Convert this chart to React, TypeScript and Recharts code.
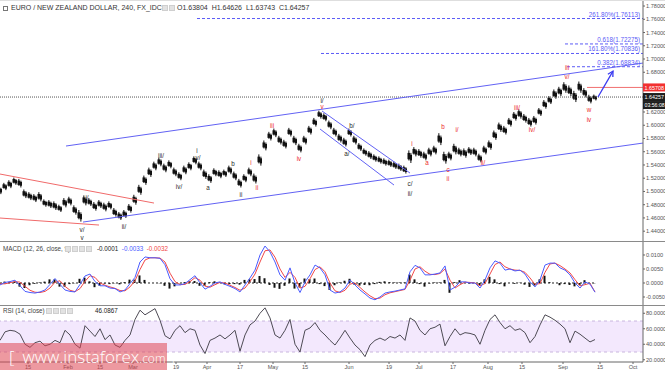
import React from 'react';
import {
  ComposedChart,
  Line,
  Bar,
  XAxis,
  YAxis,
  ReferenceLine,
  ReferenceDot,
  ReferenceArea,
} from 'recharts';

// ---------- DATA ----------
// price highs / lows (4H candles sampled), one per step
const priceHigh = [
  1.508, 1.513, 1.517, 1.521, 1.519, 1.503, 1.499, 1.496, 1.499, 1.488,
  1.487, 1.485, 1.48, 1.49, 1.492, 1.479, 1.472, 1.494, 1.49, 1.484,
  1.487, 1.483, 1.485, 1.475, 1.469, 1.472, 1.481, 1.495, 1.51, 1.524,
  1.536, 1.545, 1.551, 1.542, 1.547, 1.536, 1.529, 1.539, 1.544, 1.553,
  1.545, 1.533, 1.526, 1.535, 1.532, 1.533, 1.539, 1.53, 1.519, 1.526,
  1.536, 1.527, 1.556, 1.577, 1.59, 1.595, 1.584, 1.578, 1.596, 1.584,
  1.572, 1.584, 1.599, 1.611, 1.622, 1.618, 1.607, 1.596, 1.587, 1.581,
  1.595, 1.584, 1.573, 1.565, 1.561, 1.556, 1.553, 1.55, 1.548, 1.545,
  1.542, 1.539, 1.562, 1.567, 1.564, 1.56, 1.566, 1.569, 1.588, 1.56,
  1.56, 1.572, 1.566, 1.565, 1.567, 1.566, 1.557, 1.569, 1.577, 1.592,
  1.604, 1.599, 1.611, 1.62, 1.624, 1.617, 1.611, 1.614, 1.626, 1.638,
  1.644, 1.654, 1.658, 1.665, 1.66, 1.652, 1.666, 1.656, 1.646, 1.6463,
];
const priceLow = [
  1.496, 1.502, 1.505, 1.51, 1.506, 1.49, 1.487, 1.484, 1.485, 1.477,
  1.475, 1.472, 1.469, 1.476, 1.479, 1.465, 1.4545, 1.479, 1.478, 1.471,
  1.475, 1.47, 1.473, 1.462, 1.457, 1.46, 1.468, 1.48, 1.495, 1.51,
  1.522, 1.532, 1.538, 1.529, 1.535, 1.523, 1.517, 1.526, 1.532, 1.541,
  1.532, 1.519, 1.513, 1.523, 1.52, 1.522, 1.526, 1.517, 1.506, 1.514,
  1.523, 1.512, 1.539, 1.562, 1.577, 1.582, 1.571, 1.565, 1.583, 1.57,
  1.559, 1.571, 1.586, 1.598, 1.61, 1.606, 1.594, 1.583, 1.574, 1.568,
  1.583, 1.571, 1.561, 1.554, 1.549, 1.545, 1.542, 1.539, 1.537, 1.534,
  1.531, 1.527, 1.543, 1.553, 1.551, 1.547, 1.553, 1.556, 1.57, 1.542,
  1.547, 1.556, 1.553, 1.551, 1.555, 1.553, 1.544, 1.556, 1.563, 1.578,
  1.59, 1.586, 1.598, 1.607, 1.61, 1.604, 1.598, 1.601, 1.614, 1.625,
  1.632, 1.64, 1.644, 1.649, 1.644, 1.635, 1.649, 1.642, 1.633, 1.6374,
];
const macdValues = [
  -0.0007, 0.0002, 0.0005, 0.001, -0.001, -0.003, -0.0034, -0.0036, -0.0032, -0.0025,
  -0.0005, 0.0016, -0.0005, -0.0025, -0.003, -0.0032, -0.0005, 0.0025, 0.0032, 0.0005,
  -0.001, -0.001, -0.0018, -0.002, -0.0032, -0.0025, -0.0002, 0.002, 0.0075, 0.0093,
  0.009, 0.009, 0.0088, 0.0065, 0.0015, -0.0007, -0.0007, -0.0002, 0.0012, 0.0026,
  0.0, -0.0022, -0.0012, 0.0, 0.0004, -0.0005, -0.0012, -0.002, -0.0032, -0.0007,
  0.0018, 0.0046, 0.01, 0.0132, 0.0111, 0.0075, 0.0029, 0.001, 0.0054, 0.0,
  -0.0034, 0.0004, 0.0029, 0.0064, 0.0054, 0.0029, -0.0025, -0.0036, -0.0032, -0.0018,
  0.0011, -0.0007, -0.0025, -0.0039, -0.0054, -0.006, -0.005, -0.0036, -0.0032, -0.0029,
  -0.0025, -0.0021, 0.004, 0.0063, 0.0054, 0.0029, 0.0029, 0.0032, 0.0036, 0.0061,
  -0.0025, -0.0015, 0.0004, 0.0004, 0.0, 0.0, -0.0018, 0.0011, 0.0054, 0.0079,
  0.0071, 0.0046, 0.005, 0.0043, 0.0046, 0.0032, 0.0004, -0.0014, 0.0011, 0.0064,
  0.0071, 0.0071, 0.0054, 0.0046, 0.0029, 0.0, -0.0018, 0.0004, -0.0004, -0.0033,
];
const signalValues = [
  -0.0003, -0.0003, 0.0001, 0.0005, 0.0003, -0.0012, -0.0026, -0.0033, -0.0034, -0.003,
  -0.0018, 0.0003, 0.0008, -0.0012, -0.0026, -0.0031, -0.002, 0.0006, 0.0026, 0.002,
  0.0, -0.0008, -0.0014, -0.0019, -0.0027, -0.0028, -0.0014, 0.0008, 0.0048, 0.0082,
  0.009, 0.009, 0.0089, 0.0075, 0.0035, 0.0005, -0.0006, -0.0005, 0.0005, 0.0019,
  0.001, -0.0011, -0.0015, -0.0006, 0.0002, 0.0, -0.0008, -0.0016, -0.0026, -0.0018,
  0.0005, 0.0032, 0.0075, 0.0115, 0.0118, 0.0092, 0.005, 0.002, 0.0038, 0.002,
  -0.0018, -0.0012, 0.0015, 0.0048, 0.0058, 0.004, 0.0, -0.0028, -0.0034, -0.0026,
  -0.0004, 0.0, -0.0016, -0.0032, -0.0046, -0.0056, -0.0054, -0.0042, -0.0035, -0.0031,
  -0.0027, -0.0023, 0.001, 0.005, 0.0058, 0.0042, 0.0031, 0.003, 0.0034, 0.005,
  0.001, -0.0018, -0.0006, 0.0003, 0.0002, 0.0, -0.001, -0.0002, 0.0032, 0.0066,
  0.0075, 0.0058, 0.005, 0.0046, 0.0045, 0.0038, 0.0018, -0.0005, -0.0002, 0.0038,
  0.0068, 0.0071, 0.0062, 0.005, 0.0036, 0.0012, -0.001, -0.0006, -0.0001, -0.0032,
];
const histValues = [
  -0.0004, 0.0005, 0.0004, 0.0005, -0.0013, -0.0018, -0.0008, -0.0003, 0.0002, 0.0005,
  0.0013, 0.0013, -0.0013, -0.0013, -0.0004, -0.0001, 0.0015, 0.0019, 0.0006, -0.0015,
  -0.001, -0.0002, -0.0004, -0.0001, -0.0005, 0.0003, 0.0012, 0.0012, 0.0027, 0.0011,
  0.0, 0.0, -0.0001, -0.001, -0.002, -0.0012, -0.0001, 0.0003, 0.0007, 0.0007,
  -0.001, -0.0011, 0.0003, 0.0006, 0.0002, -0.0005, -0.0004, -0.0004, -0.0006, 0.0011,
  0.0013, 0.0014, 0.0025, 0.0017, -0.0007, -0.0017, -0.0021, -0.001, 0.0016, -0.002,
  -0.0016, 0.0016, 0.0014, 0.0016, -0.0004, -0.0011, -0.0025, -0.0008, 0.0002, 0.0008,
  0.0015, -0.0007, -0.0009, -0.0007, -0.0008, -0.0004, 0.0004, 0.0006, 0.0003, 0.0002,
  0.0002, 0.0002, 0.003, 0.0013, -0.0004, -0.0013, -0.0002, 0.0002, 0.0002, 0.0011,
  -0.0035, 0.0003, 0.001, 0.0001, -0.0002, 0.0, -0.0008, 0.0013, 0.0022, 0.0013,
  -0.0004, -0.0012, 0.0, -0.0003, 0.0001, -0.0006, -0.0014, -0.0009, 0.0013, 0.0026,
  0.0003, 0.0, -0.0008, -0.0004, -0.0007, -0.0012, -0.0008, 0.001, -0.0003, -0.0001,
];
const rsiValues = [
  45, 56, 58, 57, 53, 40, 36, 42, 44, 38,
  40, 45, 42, 58, 52, 40, 35, 64, 57, 50,
  60, 46, 52, 39, 36, 45, 52, 72, 84, 78,
  82, 86, 71, 51, 47, 58, 64, 55, 60, 58,
  39, 28, 45, 48, 52, 47, 52, 58, 31, 52,
  65, 70, 80, 87, 74, 52, 48, 58, 72, 40,
  30, 58, 61, 68, 58, 52, 45, 39, 48, 58,
  48, 39, 33, 24, 39, 45, 48, 45, 50, 48,
  52, 45, 74, 70, 58, 52, 60, 62, 66, 38,
  50, 60, 52, 55, 54, 52, 40, 58, 72, 78,
  68, 60, 64, 58, 60, 55, 42, 50, 65, 78,
  75, 71, 66, 60, 42, 57, 53, 48, 43, 46.0867,
];

const dateTickPos = [5.6, 13.6, 20, 26.6, 35.2, 41.4, 48, 54.6, 61, 69.8, 77.8, 83.8, 90.6, 97.6, 104.4, 112.6, 120, 126.6];
const dateTickLabels = ['15', 'Feb', '15', 'Mar', '19', 'Apr', '17', 'May', '15', 'Jun', '19', 'Jul', '17', 'Aug', '15', 'Sep', '15', 'Oct'];

const priceTicks = [1.44, 1.46, 1.48, 1.5, 1.52, 1.54, 1.56, 1.58, 1.6, 1.62, 1.68, 1.7, 1.72, 1.74, 1.76, 1.78];
const macdTicks = [-0.005, 0, 0.005, 0.01];
const rsiTicks = [20, 40, 60, 80];

const fibLevels = [
  { label: '261.80%(1.76113)', value: 1.76113, from: 39.4 },
  { label: '0.618(1.72275)', value: 1.72275, from: 113 },
  { label: '161.80%(1.70836)', value: 1.70836, from: 64.2 },
  { label: '0.382(1.68834)', value: 1.68834, from: 113.4 },
];

const trendLines = [
  { a: [13.2, 1.5686], b: [128.6, 1.6939], color: 'blue' },
  { a: [16.6, 1.4538], b: [128.6, 1.5731], color: 'blue' },
  { a: [0, 1.5263], b: [30.8, 1.4825], color: 'red' },
  { a: [0, 1.4599], b: [19.8, 1.4493], color: 'red' },
  { a: [64.4, 1.6215], b: [82, 1.5278], color: 'blue' },
  { a: [64, 1.5943], b: [78.8, 1.5097], color: 'blue' },
];

const waveLabels = [
  { t: 'i/', x: 17.4, p: 1.4916, red: false },
  { t: 'v/', x: 16.4, p: 1.4425, red: false },
  { t: 'v', x: 16.4, p: 1.4305, red: false },
  { t: 'ii/', x: 24.8, p: 1.4478, red: false },
  { t: 'iii/', x: 32.2, p: 1.555, red: false },
  { t: 'iv/', x: 35.8, p: 1.5082, red: false },
  { t: 'i', x: 39.4, p: 1.5626, red: false },
  { t: 'v/', x: 39.6, p: 1.552, red: false },
  { t: 'a', x: 41.6, p: 1.5067, red: false },
  { t: 'b', x: 46.6, p: 1.5429, red: false },
  { t: 'ii', x: 48.2, p: 1.4961, red: false },
  { t: 'i/', x: 64.4, p: 1.6381, red: false },
  { t: 'b/', x: 70.4, p: 1.6003, red: false },
  { t: 'a/', x: 69.4, p: 1.558, red: false },
  { t: 'c/', x: 82, p: 1.5127, red: false },
  { t: 'ii/', x: 82, p: 1.4976, red: false },
  { t: 'i', x: 50.2, p: 1.5444, red: true },
  { t: 'ii', x: 51.4, p: 1.5067, red: true },
  { t: 'iii', x: 54.4, p: 1.6003, red: true },
  { t: 'iv', x: 59.8, p: 1.5505, red: true },
  { t: 'v', x: 64.4, p: 1.629, red: true },
  { t: 'i', x: 82.4, p: 1.5731, red: true },
  { t: 'a', x: 85.4, p: 1.5444, red: true },
  { t: 'b', x: 88.6, p: 1.5988, red: true },
  { t: 'i/', x: 91.4, p: 1.5943, red: true },
  { t: 'c', x: 89.6, p: 1.5339, red: true },
  { t: 'ii', x: 89.6, p: 1.5203, red: true },
  { t: 'ii/', x: 96.6, p: 1.5444, red: true },
  { t: 'iii/', x: 103.4, p: 1.6275, red: true },
  { t: 'iv/', x: 106.4, p: 1.5943, red: true },
  { t: 'v/', x: 113.4, p: 1.6743, red: true },
  { t: 'iii', x: 113.4, p: 1.6879, red: true },
  { t: 'w', x: 117.8, p: 1.6245, red: true },
  { t: 'iv', x: 117.8, p: 1.6094, red: true },
];

const lastClose = 1.64257;
const prevLevel = 1.65708;
const countdown = '03:56:08';
const arrowFrom = [119.6, 1.6426];
const arrowTo = [122.6, 1.6818];

// ---------- TABLES ----------
const priceData = priceHigh.map((h, i) => ({ x: i, range: [priceLow[i], h] }));
const macdData = macdValues.map((m, i) => ({ x: i, macd: m, signal: signalValues[i], hist: histValues[i] }));
const rsiData = rsiValues.map((r, i) => ({ x: i, rsi: r }));

// ---------- STYLE ----------
const FONT = '"Liberation Sans", Arial, sans-serif';
const DARK = '#2a2a2a';
const RED = '#ec2b2b';
const BLUE = '#5b5bf6';
const AXIS = '#666';
const X_DOMAIN: [number, number] = [0, 128.6];
const AX_W = 22;
const tickStyle = { fontSize: 5.6, fill: '#555', fontFamily: FONT };

const ArrowShape = (p: any) => {
  const { x1, y1, x2, y2 } = p;
  const a = Math.atan2(y2 - y1, x2 - x1);
  const L = 6;
  const s = 0.5;
  const ax = x2 - L * Math.cos(a - s);
  const ay = y2 - L * Math.sin(a - s);
  const bx = x2 - L * Math.cos(a + s);
  const by = y2 - L * Math.sin(a + s);
  return (
    <g>
      <line x1={x1} y1={y1} x2={x2} y2={y2} stroke="#3a3af0" strokeWidth={1.3} />
      <polyline points={`${ax},${ay} ${x2},${y2} ${bx},${by}`} fill="none" stroke="#3a3af0" strokeWidth={1.3} />
    </g>
  );
};

// candle-like: thin wick plus narrower bodies, two sub-candles per step
const CandleShape = (p: any) => {
  const { x, y, width, height } = p;
  if (height == null || isNaN(height)) return null;
  const top = Math.min(y, y + height);
  const h = Math.abs(height);
  const c1 = x + width * 0.3;
  const c2 = x + width * 0.75;
  return (
    <g>
      <line x1={c1} y1={top} x2={c1} y2={top + h * 0.8} stroke="#111" strokeWidth={1} />
      <line x1={c2} y1={top + h * 0.2} x2={c2} y2={top + h} stroke="#111" strokeWidth={1} />
      <rect x={x} y={top + h * 0.2} width={width * 0.55} height={Math.max(1, h * 0.5)} fill="#111" />
      <rect x={x + width * 0.5} y={top + h * 0.35} width={width * 0.5} height={Math.max(1, h * 0.45)} fill="#111" />
    </g>
  );
};

function PriceChart() {
  return (
    <ComposedChart width={665} height={241} data={priceData} margin={{ top: 0, right: 0, bottom: 0, left: 0 }}>
      <XAxis dataKey="x" type="number" domain={X_DOMAIN} hide allowDataOverflow />
      <YAxis
        orientation="right"
        width={AX_W}
        domain={[1.4252, 1.7891]}
        allowDataOverflow
        ticks={priceTicks}
        tickFormatter={(v: number) => v.toFixed(5)}
        tick={tickStyle}
        tickSize={2}
        tickMargin={1}
        axisLine={{ stroke: AXIS }}
        tickLine={{ stroke: AXIS }}
      />
      <ReferenceLine y={lastClose} stroke="#555" strokeDasharray="1 1" strokeWidth={1} ifOverflow="hidden" />
      {fibLevels.map((f, i) => (
        <ReferenceLine
          key={'f' + i}
          segment={[{ x: f.from, y: f.value }, { x: 128.6, y: f.value }]}
          stroke={BLUE}
          strokeDasharray="3 2"
          strokeWidth={1}
          ifOverflow="hidden"
        />
      ))}
      <ReferenceLine
        segment={[{ x: 117.4, y: prevLevel }, { x: 128.6, y: prevLevel }]}
        stroke="#f07070"
        strokeWidth={1}
        ifOverflow="hidden"
      />
      {trendLines.map((l, i) => (
        <ReferenceLine
          key={'t' + i}
          segment={[{ x: l.a[0], y: l.a[1] }, { x: l.b[0], y: l.b[1] }]}
          stroke={l.color === 'red' ? '#f06a6a' : '#6262f4'}
          strokeWidth={1}
          ifOverflow="hidden"
        />
      ))}
      <Bar dataKey="range" barSize={5} fill="#111" shape={CandleShape} isAnimationActive={false} />
      <ReferenceLine
        segment={[{ x: arrowFrom[0], y: arrowFrom[1] }, { x: arrowTo[0], y: arrowTo[1] }]}
        ifOverflow="visible"
        shape={ArrowShape}
      />
      {fibLevels.map((f, i) => (
        <ReferenceDot
          key={'fl' + i}
          x={128}
          y={f.value}
          r={1}
          ifOverflow="visible"
          shape={(p: any) => (
            <text x={p.cx} y={p.cy - 2} textAnchor="end" fontSize={6.3} fill={BLUE} fontFamily={FONT}>
              {f.label}
            </text>
          )}
        />
      ))}
      {waveLabels.map((w, i) => (
        <ReferenceDot
          key={'w' + i}
          x={w.x}
          y={w.p}
          r={1}
          ifOverflow="visible"
          shape={(p: any) => (
            <text
              x={p.cx}
              y={p.cy}
              textAnchor="middle"
              dominantBaseline="central"
              fontSize={6.3}
              fill={w.red ? RED : DARK}
              fontFamily={FONT}
            >
              {w.t}
            </text>
          )}
        />
      ))}
      <ReferenceDot
        x={128.6}
        y={prevLevel}
        r={1}
        ifOverflow="visible"
        shape={(p: any) => (
          <g>
            <rect x={p.cx} y={p.cy - 4} width={22} height={8} fill="#f23030" />
            <text x={p.cx + 1.5} y={p.cy + 2.1} fontSize={5.4} fill="#fff" fontFamily={FONT}>
              {prevLevel.toFixed(5)}
            </text>
          </g>
        )}
      />
      <ReferenceDot
        x={128.6}
        y={lastClose}
        r={1}
        ifOverflow="visible"
        shape={(p: any) => (
          <g>
            <rect x={p.cx} y={p.cy - 4} width={22} height={8} fill="#1e1e1e" />
            <text x={p.cx + 1.5} y={p.cy + 2.1} fontSize={5.4} fill="#fff" fontFamily={FONT}>
              {lastClose.toFixed(5)}
            </text>
            <rect x={p.cx} y={p.cy + 4} width={22} height={8} fill="#1e1e1e" />
            <text x={p.cx + 1.5} y={p.cy + 10.1} fontSize={5.2} fill="#fff" fontFamily={FONT}>
              {countdown}
            </text>
          </g>
        )}
      />
    </ComposedChart>
  );
}

function MacdChart() {
  return (
    <ComposedChart width={665} height={63} data={macdData} margin={{ top: 0, right: 0, bottom: 0, left: 0 }}>
      <XAxis dataKey="x" type="number" domain={X_DOMAIN} hide allowDataOverflow />
      <YAxis
        orientation="right"
        width={AX_W}
        domain={[-0.00786, 0.01464]}
        allowDataOverflow
        ticks={macdTicks}
        tickFormatter={(v: number) => v.toFixed(4)}
        tick={tickStyle}
        tickSize={2}
        tickMargin={1}
        axisLine={{ stroke: AXIS }}
        tickLine={{ stroke: AXIS }}
      />
      <ReferenceLine
        segment={[{ x: 0, y: 0 }, { x: 119, y: 0 }]}
        stroke="#222"
        strokeDasharray="2 2"
        strokeWidth={1}
      />
      <Bar dataKey="hist" fill="#111" barSize={2} isAnimationActive={false} />
      <Line dataKey="signal" type="linear" stroke="#f24848" strokeWidth={1} dot={false} activeDot={false} isAnimationActive={false} />
      <Line dataKey="macd" type="linear" stroke="#4b5cff" strokeWidth={1} dot={false} activeDot={false} isAnimationActive={false} />
    </ComposedChart>
  );
}

function RsiChart() {
  return (
    <ComposedChart width={665} height={66} data={rsiData} margin={{ top: 0, right: 0, bottom: 0, left: 0 }}>
      <XAxis
        dataKey="x"
        type="number"
        domain={X_DOMAIN}
        allowDataOverflow
        ticks={dateTickPos}
        interval={0}
        tickFormatter={(v: number) => {
          const k = dateTickPos.indexOf(v);
          return k >= 0 ? dateTickLabels[k] : '';
        }}
        tick={tickStyle}
        height={10}
        tickSize={2}
        tickMargin={1}
        axisLine={{ stroke: AXIS }}
        tickLine={{ stroke: AXIS }}
      />
      <YAxis
        orientation="right"
        width={AX_W}
        domain={[17.1, 89.4]}
        allowDataOverflow
        ticks={rsiTicks}
        tickFormatter={(v: number) => v.toFixed(4)}
        tick={tickStyle}
        tickSize={2}
        tickMargin={1}
        axisLine={{ stroke: AXIS }}
        tickLine={{ stroke: AXIS }}
      />
      <ReferenceArea y1={30} y2={70} fill="#f3e8fd" fillOpacity={1} stroke="none" ifOverflow="hidden" />
      <ReferenceLine y={70} stroke="#c9b6de" strokeDasharray="3 3" />
      <ReferenceLine y={30} stroke="#c9b6de" strokeDasharray="3 3" />
      <Line dataKey="rsi" type="linear" stroke="#4e4b55" strokeWidth={1} dot={false} activeDot={false} isAnimationActive={false} />
    </ComposedChart>
  );
}

const iconBox = (left: number, top: number) => (
  <div style={{ position: 'absolute', left, top, width: 6, height: 6, background: '#e2e2e2', border: '1px solid #cfcfcf', boxSizing: 'border-box' }} />
);

export default function App() {
  return (
    <div style={{ position: 'absolute', left: 0, top: 0, width: 665, height: 372, background: '#fff', overflow: 'hidden', fontFamily: FONT }}>
      <div style={{ position: 'absolute', left: 0, top: 0 }}>
        <PriceChart />
      </div>
      <div style={{ position: 'absolute', left: 0, top: 242 }}>
        <MacdChart />
      </div>
      <div style={{ position: 'absolute', left: 0, top: 306 }}>
        <RsiChart />
      </div>
      <div style={{ position: 'absolute', left: 0, top: 0, width: 665, height: 1, background: '#dedede' }} />
      <div style={{ position: 'absolute', left: 0, top: 241, width: 665, height: 1, background: '#8a8a8a' }} />
      <div style={{ position: 'absolute', left: 0, top: 305, width: 665, height: 1, background: '#8a8a8a' }} />

      {/* main header */}
      <div style={{ position: 'absolute', left: 3, top: 4, fontSize: 7, lineHeight: '8px', color: '#333', whiteSpace: 'nowrap' }}>
        <span style={{ display: 'inline-block', width: 5, height: 5, border: '1px solid #777', marginRight: 3, verticalAlign: 'middle', boxSizing: 'border-box' }} />
        EURO / NEW ZEALAND DOLLAR, 240, FX_IDC <span style={{ color: '#aaa' }}>▾</span>
      </div>
      {iconBox(162, 5)}
      {iconBox(169, 5)}
      <div style={{ position: 'absolute', left: 177, top: 4, fontSize: 7, lineHeight: '8px', color: '#333', whiteSpace: 'nowrap' }}>
        O1.63804&nbsp;&nbsp;H1.64626&nbsp;&nbsp;L1.63743&nbsp;&nbsp;C1.64257
      </div>

      {/* MACD header */}
      <div style={{ position: 'absolute', left: 3, top: 245, fontSize: 6.3, lineHeight: '8px', color: '#444', whiteSpace: 'nowrap' }}>
        MACD (12, 26, close, 9) <span style={{ color: '#aaa' }}>▾</span>
      </div>
      {iconBox(65, 246)}
      {iconBox(72, 246)}
      {iconBox(79, 246)}
      {iconBox(86, 246)}
      <div style={{ position: 'absolute', left: 97, top: 245, fontSize: 6.3, lineHeight: '8px', whiteSpace: 'nowrap' }}>
        <span style={{ color: '#222' }}>-0.0001</span>&nbsp;&nbsp;
        <span style={{ color: '#4b5cff' }}>-0.0033</span>&nbsp;&nbsp;
        <span style={{ color: '#f24848' }}>-0.0032</span>
      </div>

      {/* RSI header */}
      <div style={{ position: 'absolute', left: 3, top: 307, fontSize: 6.3, lineHeight: '8px', color: '#444', whiteSpace: 'nowrap' }}>
        RSI (14, close) <span style={{ color: '#aaa' }}>▾</span>
      </div>
      {iconBox(46, 308)}
      {iconBox(53, 308)}
      {iconBox(60, 308)}
      {iconBox(67, 308)}
      <div style={{ position: 'absolute', left: 95, top: 307, fontSize: 6.3, lineHeight: '8px', color: '#222', whiteSpace: 'nowrap' }}>
        46.0867
      </div>

      {/* watermark */}
      <div
        style={{
          position: 'absolute',
          left: 0,
          top: 343,
          width: 167,
          height: 27,
          background: 'rgba(222, 70, 82, 0.55)',
          color: '#fff',
          whiteSpace: 'nowrap',
          display: 'flex',
          alignItems: 'center',
          fontFamily: '"Open Sans", "Liberation Sans", sans-serif',
        }}
      >
        <span style={{ fontSize: 17, marginLeft: 9, fontWeight: 300 }}>[</span>
        <span style={{ fontSize: 17, marginLeft: 8, fontWeight: 300 }}>www.instaforex</span>
        <span style={{ fontSize: 12, fontWeight: 300, marginTop: 3 }}>.com</span>
        <span style={{ fontSize: 13, marginLeft: 5, fontWeight: 300 }}>]</span>
      </div>
    </div>
  );
}
